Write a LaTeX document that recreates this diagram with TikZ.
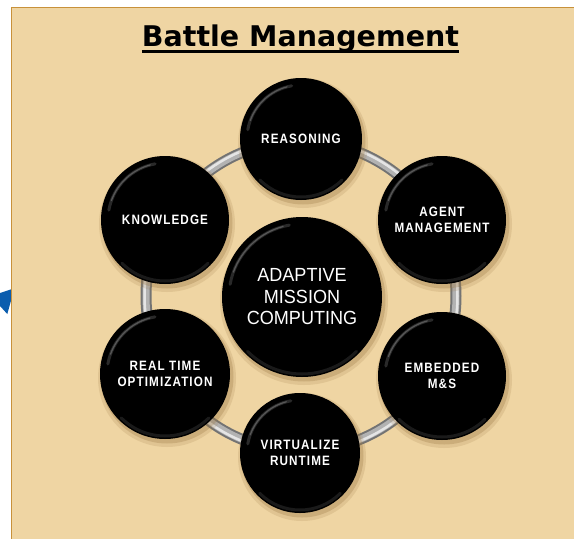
\documentclass[tikz,border=0pt]{standalone}
\usepackage{fontspec}
\setmainfont{Liberation Sans}
\newfontfamily\titlefont{DejaVu Sans}
\newfontfamily\labfont{Liberation Sans}[FakeStretch=0.86,LetterSpace=8]
\newfontfamily\cenfont{Liberation Sans}[FakeStretch=0.95]
\definecolor{tan}{HTML}{EFD5A3}
\definecolor{panelborder}{HTML}{C8913A}
\definecolor{shadowtan}{HTML}{9C7A45}
\definecolor{arrowblue}{HTML}{0B5DAE}
\tikzset{
  ballnode/.style={circle,fill=black,inner sep=0pt,text=white,align=center,
    font=\labfont\bfseries\fontsize{13.6}{16}\selectfont},
  cennode/.style={circle,fill=black,inner sep=0pt,text=white,align=center,
    font=\cenfont\fontsize{19}{21.5}\selectfont},
  rodout/.style={draw=black!55,line width=11pt},
  rodmid/.style={draw=black!30,line width=7pt},
  rodhi/.style={draw=white!90!black,line width=2.5pt},
  rimhi/.style={draw=white,line width=3pt,opacity=0.16,line cap=round},
  rimhi2/.style={draw=white,line width=1.2pt,opacity=0.22,line cap=round},
  rimlo/.style={draw=white,line width=3pt,opacity=0.10,line cap=round},
}
\newcommand\mkball[6]{%
  \fill[shadowtan,opacity=0.18] (#2+2,#3-4) circle (#4+4);
  \fill[shadowtan,opacity=0.30] (#2+2,#3-3) circle (#4+1.5);
  \node[#6,minimum size=2*#4 pt] (#1) at (#2,#3) {#5};
  \draw[rimhi] ([shift={(100:#4-7)}]#1.center) arc (100:170:#4-7);
  \draw[rimhi2] ([shift={(105:#4-7)}]#1.center) arc (105:160:#4-7);
  \draw[rimlo] ([shift={(225:#4-3)}]#1.center) arc (225:315:#4-3);
}
\begin{document}
\begin{tikzpicture}[x=1pt,y=1pt]
\useasboundingbox (0,-539) rectangle (574,0);
\fill[white] (0,-539) rectangle (574,0);
% blue arrow fragment
\fill[arrowblue] (12,-289) -- (0,-293) -- (0,-306) -- (7.3,-314) -- (12,-297) -- cycle;
% panel
\fill[tan] (11,-539) rectangle (574,-7);
\draw[panelborder,line width=1.5pt] (11.5,-539) -- (11.5,-7.5) -- (574,-7.5);
% title
\node[inner sep=0pt,font=\titlefont\bfseries\fontsize{28.5}{31}\selectfont]
  (title) at (300.5,-38.5) {Battle Management};
\draw[line width=3pt] ([yshift=-5pt]title.base west) -- ([yshift=-5pt]title.base east);
% ring
\coordinate (ringc) at (301,-296);
\draw[rodout] (ringc) circle (155);
\draw[rodmid] (ringc) circle (155);
\draw[rodhi] (ringc) circle (156.5);
% balls
\mkball{rea}{301}{-139}{61}{REASONING}{ballnode}
\mkball{agt}{442}{-220}{64}{AGENT\\MANAGEMENT}{ballnode}
\mkball{emb}{442}{-376}{64}{EMBEDDED\\M\&S}{ballnode}
\mkball{vir}{300}{-453}{60}{VIRTUALIZE\\RUNTIME}{ballnode}
\mkball{rto}{165}{-374}{65}{REAL TIME\\OPTIMIZATION}{ballnode}
\mkball{kno}{165}{-220}{64}{KNOWLEDGE}{ballnode}
\mkball{amc}{302}{-297}{80}{ADAPTIVE\\MISSION\\COMPUTING}{cennode}
\end{tikzpicture}
\end{document}
